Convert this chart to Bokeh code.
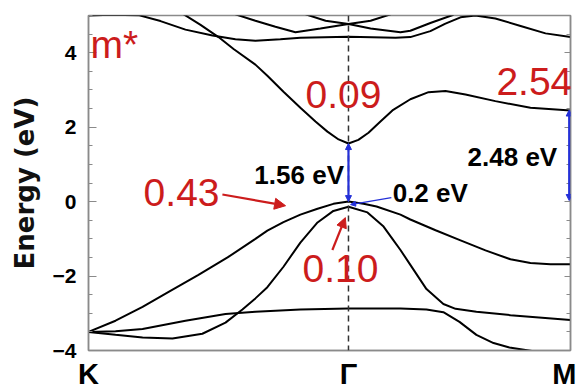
import numpy as np
from bokeh.plotting import figure
from bokeh.models import (Range1d, LinearAxis, FixedTicker, Span, Label, Arrow,
                          NormalHead, CustomJSTickFormatter)
from bokeh.embed import file_html
from bokeh.resources import INLINE

# ---------------- data ----------------
kpoint_pos = [0.0, 1.0, 1.854]          # K, Gamma, M along the path
kpoint_labels = ["K", "Γ", "M"]
y_ticks = [-4, -2, 0, 2, 4]

# valence bands
vb1_k = [0, 0.104, 0.208, 0.315, 0.423, 0.535, 0.642, 0.688, 0.75, 0.815, 0.881, 0.942, 1.0,
         1.058, 1.108, 1.2, 1.238, 1.335, 1.431, 1.527, 1.623, 1.7, 1.777, 1.854]
vb1_e = [-3.5, -3.2, -2.83, -2.4, -1.97, -1.5, -1.0, -0.78, -0.55, -0.35, -0.19, -0.06, 0.0,
         -0.06, -0.13, -0.35, -0.48, -0.77, -1.04, -1.31, -1.55, -1.65, -1.68, -1.68]

vb2_k = [0, 0.104, 0.208, 0.323, 0.438, 0.527, 0.592, 0.642, 0.688, 0.75, 0.815, 0.881, 0.942, 1.0,
         1.073, 1.135, 1.169, 1.2, 1.238, 1.3, 1.365, 1.412, 1.492, 1.623, 1.854]
vb2_e = [-3.5, -3.58, -3.65, -3.68, -3.55, -3.25, -2.9, -2.6, -2.3, -1.75, -1.1, -0.56, -0.25, -0.14,
         -0.29, -0.67, -1.0, -1.3, -1.7, -2.35, -2.75, -2.88, -2.96, -3.05, -3.18]

vb3_k = [0, 0.104, 0.208, 0.373, 0.527, 0.642, 0.815, 1.0, 1.2, 1.3, 1.365, 1.427, 1.492, 1.558,
         1.619, 1.712, 1.815, 1.854]
vb3_e = [-3.5, -3.48, -3.42, -3.2, -3.02, -2.96, -2.9, -2.87, -2.87, -2.9, -2.97, -3.23, -3.58, -3.8,
         -3.92, -4.02, -4.1, -4.12]

# conduction bands
cb1_k = [0.362, 0.431, 0.5, 0.558, 0.642, 0.688, 0.75, 0.815, 0.873, 0.919, 0.962, 1.0, 1.038,
         1.077, 1.123, 1.169, 1.238, 1.308, 1.373, 1.45, 1.565, 1.7, 1.854]
cb1_e = [5.05, 4.75, 4.42, 4.1, 3.68, 3.38, 2.95, 2.52, 2.15, 1.88, 1.67, 1.56, 1.66,
         1.85, 2.15, 2.45, 2.75, 2.94, 2.97, 2.88, 2.7, 2.52, 2.45]

cb2_k = [0, 0.085, 0.192, 0.277, 0.373, 0.477, 0.565, 0.642, 0.738, 0.815, 1.0, 1.181, 1.238,
         1.315, 1.373, 1.431, 1.488, 1.565, 1.662, 1.758, 1.854]
cb2_e = [5.0, 5.02, 5.01, 4.85, 4.62, 4.46, 4.36, 4.32, 4.36, 4.4, 4.43, 4.4, 4.42,
         4.58, 4.78, 4.95, 5.0, 4.92, 4.72, 4.52, 4.42]

cb3_k = [0.565, 0.642, 0.719, 0.796, 0.892, 1.0, 1.085, 1.2, 1.238, 1.315, 1.404]
cb3_e = [5.03, 4.86, 4.7, 4.55, 4.65, 4.77, 4.65, 4.55, 4.59, 4.8, 5.02]

cb4_k = [0.835, 0.912, 1.0, 1.085, 1.162]
cb4_e = [5.03, 4.86, 4.77, 4.86, 5.03]

bands = [(vb1_k, vb1_e), (vb2_k, vb2_e), (vb3_k, vb3_e),
         (cb1_k, cb1_e), (cb2_k, cb2_e), (cb3_k, cb3_e), (cb4_k, cb4_e)]

# annotations
gap_gamma = [0.0, 1.56]        # VBM -> CBM at Gamma
gap_m = [0.03, 2.46]           # at M
mass_labels = ["m*", "0.09", "2.54", "0.43", "0.10"]
gap_labels = ["1.56 eV", "2.48 eV", "0.2 eV"]

# ---------------- figure ----------------
FONT = "Liberation Sans"
RED = "#cc1c1c"
BLUE = "#2430d8"
FRAME = "#8a8a8a"

p = figure(width=576, height=392, x_range=Range1d(0, 1.854), y_range=Range1d(-4, 5),
           output_backend="svg", toolbar_location=None,
           min_border_left=88, min_border_right=6, min_border_top=15, min_border_bottom=38)
p.grid.visible = False
p.outline_line_color = FRAME
p.outline_line_width = 1.5
p.background_fill_color = "white"
p.border_fill_color = "white"

# x axis
p.xaxis.ticker = FixedTicker(ticks=kpoint_pos)
p.xaxis.formatter = CustomJSTickFormatter(args=dict(pos=kpoint_pos, labels=kpoint_labels), code="""
    for (let i = 0; i < pos.length; i++) { if (Math.abs(tick - pos[i]) < 1e-6) return labels[i]; }
    return '';
""")
p.xaxis.major_tick_line_color = None
p.xaxis.minor_tick_line_color = None
p.xaxis.major_tick_out = 0
p.xaxis.major_tick_in = 0
p.xaxis.axis_line_color = FRAME
p.xaxis.axis_line_width = 1.5
p.xaxis.major_label_text_font = FONT
p.xaxis.major_label_text_font_style = "bold"
p.xaxis.major_label_text_font_size = "29px"
p.xaxis.major_label_text_color = "black"
p.xaxis.major_label_standoff = 7

# y axis
yticker = FixedTicker(ticks=y_ticks, minor_ticks=list(np.arange(-4, 5.01, 0.5)))
p.yaxis.ticker = yticker
p.yaxis.axis_label = "Energy (eV)"
p.yaxis.axis_label_text_font = "DejaVu Sans"
p.yaxis.axis_label_text_font_style = "bold"
p.yaxis.axis_label_text_font_size = "26px"
p.yaxis.axis_label_text_color = "#111111"
p.yaxis.axis_label_standoff = 10
p.yaxis.major_label_text_font = FONT
p.yaxis.major_label_text_font_style = "bold"
p.yaxis.major_label_text_font_size = "21px"
p.yaxis.major_label_text_color = "black"
p.yaxis.major_label_standoff = 12
p.yaxis.major_tick_in = 8
p.yaxis.major_tick_out = 0
p.yaxis.minor_tick_in = 4
p.yaxis.minor_tick_out = 0
p.yaxis.axis_line_color = FRAME
p.yaxis.axis_line_width = 1.5
p.yaxis.major_tick_line_color = FRAME
p.yaxis.minor_tick_line_color = FRAME

right = LinearAxis(ticker=FixedTicker(ticks=y_ticks, minor_ticks=list(np.arange(-4, 5.01, 0.5))),
                   formatter=CustomJSTickFormatter(code="return '';"),
                   major_tick_in=6, major_tick_out=0, minor_tick_in=4, minor_tick_out=0,
                   major_label_standoff=0, axis_line_color=FRAME, axis_line_width=1.5,
                   major_tick_line_color=FRAME, minor_tick_line_color=FRAME)
p.add_layout(right, "right")

# dashed line at Gamma
p.add_layout(Span(location=kpoint_pos[1], dimension="height", line_color="#333333",
                  line_dash="6 4", line_width=1.5))

# bands
for bk, be in bands:
    p.line(bk, be, line_color="black", line_width=2)

# blue gap arrows
p.add_layout(Arrow(x_start=kpoint_pos[1], y_start=gap_gamma[0], x_end=kpoint_pos[1], y_end=gap_gamma[1],
                   line_color=BLUE, line_width=2.2,
                   start=NormalHead(size=6, fill_color=BLUE, line_color=BLUE),
                   end=NormalHead(size=6, fill_color=BLUE, line_color=BLUE)))
p.add_layout(Arrow(x_start=1.849, y_start=gap_m[0], x_end=1.849, y_end=gap_m[1],
                   line_color=BLUE, line_width=2.2,
                   start=NormalHead(size=6, fill_color=BLUE, line_color=BLUE),
                   end=NormalHead(size=6, fill_color=BLUE, line_color=BLUE)))
p.add_layout(Arrow(x_start=1.165, y_start=0.11, x_end=1.008, y_end=-0.08,
                   line_color=BLUE, line_width=1.3,
                   end=NormalHead(size=5, fill_color=BLUE, line_color=BLUE)))

# red arrows
p.add_layout(Arrow(x_start=0.515, y_start=0.19, x_end=0.758, y_end=-0.11,
                   line_color=RED, line_width=2.2,
                   end=NormalHead(size=11, fill_color=RED, line_color=RED)))
p.add_layout(Arrow(x_start=0.938, y_start=-1.3, x_end=0.988, y_end=-0.43,
                   line_color=RED, line_width=2.2,
                   end=NormalHead(size=10, fill_color=RED, line_color=RED)))

# red effective-mass labels
red_pos = [(0.008, 4.22), (0.835, 2.88), (1.569, 3.23), (0.212, 0.24), (0.823, -1.81)]
for txt, (lx, ly) in zip(mass_labels, red_pos):
    p.add_layout(Label(x=lx, y=ly, text=txt, text_color=RED, text_font=FONT,
                       text_font_size="39px", text_baseline="alphabetic", text_align="left"))

# black gap labels
blk_pos = [(0.638, 0.71), (1.458, 1.19), (1.17, 0.22)]
for txt, (lx, ly) in zip(gap_labels, blk_pos):
    p.add_layout(Label(x=lx, y=ly, text=txt, text_color="black", text_font=FONT,
                       text_font_style="bold", text_font_size="26px",
                       text_baseline="alphabetic", text_align="left"))

open("out.html", "w").write(file_html(p, INLINE))
